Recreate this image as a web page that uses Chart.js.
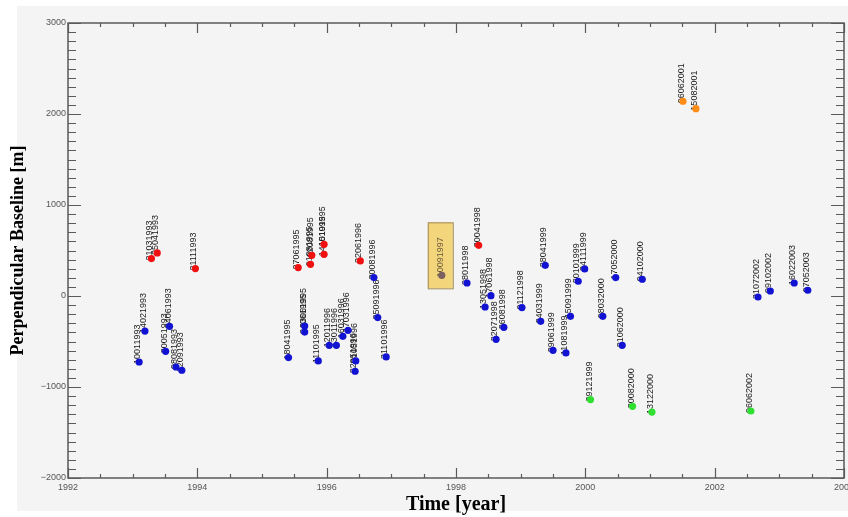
<!DOCTYPE html>
<html>
<head>
<meta charset="utf-8">
<script src="https://cdn.jsdelivr.net/npm/chart.js@4.4.1/dist/chart.umd.min.js"></script>
<style>
  html, body { margin: 0; padding: 0; background: #fff; }
</style>
</head>
<body>
<canvas id="chart" width="848" height="517"></canvas>
<script>
// blue acquisitions
const blueYears = [1993.10, 1993.19, 1993.51, 1993.57, 1993.67, 1993.76,
  1995.41, 1995.66, 1995.66, 1995.87, 1996.04, 1996.15, 1996.25, 1996.33, 1996.45, 1996.44,
  1996.73, 1996.79, 1996.92, 1998.17, 1998.45, 1998.54, 1998.62, 1998.74, 1999.02,
  1999.31, 1999.38, 1999.50, 1999.70, 1999.77, 1999.89, 1999.99, 2000.27, 2000.47,
  2000.57, 2000.88, 2002.67, 2002.86, 2003.23, 2003.44];
const blueBaselines = [-725, -385, -608, -333, -780, -816,
  -677, -330, -396, -714, -542, -542, -443, -377, -714, -827,
  202, -237, -670, 143, -121, 4, -476, -344, -127,
  -278, 337, -597, -626, -223, 162, 297, -223, 202,
  -542, 184, -11, 55, 143, 63];
const blueDates = ['10011993', '14021993', '30051993', '24061993', '08081993', '12091993',
  '18041995', '23061995', '24061995', '11101995', '12011996', '13011996', '16031996', '17031996', '21051996', '22051996',
  '30081996', '25091996', '31101996', '28011998', '13051998', '17061998', '22071998', '26081998', '01121998',
  '24031999', '28041999', '29061999', '11081999', '15091999', '20101999', '24111999', '08032000', '17052000',
  '21062000', '04102000', '31072002', '09102002', '16022003', '07052003'];

// red acquisitions
const redYears = [1993.29, 1993.38, 1993.97, 1995.56, 1995.75, 1995.77, 1995.96, 1995.96, 1996.52, 1998.35];
const redBaselines = [411, 473, 301, 312, 348, 447, 458, 568, 385, 557];
const redDates = ['21031993', '25041993', '21111993', '27061995', '01081995', '02081995',
  '14101995', '15101995', '22061996', '30041998'];

// green acquisitions
const greenYears = [2000.08, 2000.73, 2001.03, 2002.56];
const greenBaselines = [-1138, -1212, -1275, -1264];
const greenDates = ['29121999', '30082000', '13122000', '06062002'];

// orange acquisitions
const orangeYears = [2001.51, 2001.71];
const orangeBaselines = [2140, 2059];
const orangeDates = ['06062001', '15082001'];

// master image
const masterYears = [1997.78];
const masterBaselines = [227];
const masterDates = ['10091997'];

const yearTicks = [1992, 1994, 1996, 1998, 2000, 2002, 2004];
const baselineTicks = [-2000, -1000, 0, 1000, 2000, 3000];

function toPoints(xs, ys) {
  return xs.map((x, i) => ({ x: x, y: ys[i] }));
}

function makeSet(xs, ys, dates, color, boxed) {
  return {
    data: toPoints(xs, ys),
    dates: dates,
    boxed: boxed,
    backgroundColor: color,
    borderColor: color,
    borderWidth: 0,
    pointRadius: 3.6,
    pointHoverRadius: 3.6
  };
}

const paper = {
  id: 'paper',
  beforeDraw(chart) {
    const c = chart.ctx;
    c.save();
    c.fillStyle = '#ffffff';
    c.fillRect(0, 0, chart.width, chart.height);
    c.fillStyle = '#f4f4f4';
    c.fillRect(17, 6, chart.width - 17, 505);
    c.restore();
  }
};

// frame with inward ticks on all four sides
const frame = {
  id: 'frame',
  beforeDatasetsDraw(chart) {
    const c = chart.ctx;
    const a = chart.chartArea;
    const xs = chart.scales.x, ys = chart.scales.y;
    c.save();
    c.strokeStyle = '#5a5a5a';
    c.lineWidth = 1.5;
    c.strokeRect(a.left, a.top, a.right - a.left, a.bottom - a.top);
    c.lineWidth = 1.2;
    c.beginPath();
    for (let v = 1992; v <= 2004; v += 0.5) {
      const px = Math.round(xs.getPixelForValue(v)) + 0.5;
      const len = v % 2 === 0 ? 10 : 4;
      c.moveTo(px, a.bottom); c.lineTo(px, a.bottom - len);
      c.moveTo(px, a.top); c.lineTo(px, a.top + len);
    }
    for (let v = -2000; v <= 3000; v += 100) {
      const py = Math.round(ys.getPixelForValue(v)) + 0.5;
      const len = v % 1000 === 0 ? 13 : 8;
      c.moveTo(a.left, py); c.lineTo(a.left + len, py);
      c.moveTo(a.right, py); c.lineTo(a.right - len, py);
    }
    c.stroke();
    c.restore();
  }
};

// rotated date label next to every acquisition
const dateLabels = {
  id: 'dateLabels',
  beforeDatasetsDraw(chart) {
    const c = chart.ctx;
    c.save();
    c.font = '9px "Liberation Sans", Arial, sans-serif';
    chart.data.datasets.forEach((ds, i) => {
      const meta = chart.getDatasetMeta(i);
      meta.data.forEach((pt, j) => {
        if (ds.boxed) {
          c.fillStyle = '#f3d57c';
          c.strokeStyle = '#a08c5c';
          c.lineWidth = 1;
          c.fillRect(pt.x - 14, pt.y - 53, 25, 66);
          c.strokeRect(pt.x - 14 + 0.5, pt.y - 53 + 0.5, 25, 66);
          c.fillStyle = '#6a5a3a';
        } else {
          c.fillStyle = '#1a1a1a';
        }
        c.save();
        c.translate(pt.x + 1, pt.y + 2);
        c.rotate(-Math.PI / 2);
        c.fillText(ds.dates[j], 0, 0);
        c.restore();
      });
    });
    c.restore();
  }
};

const ctx = document.getElementById('chart').getContext('2d');
const myChart = new Chart(ctx, {
  type: 'scatter',
  data: {
    datasets: [
      makeSet(blueYears, blueBaselines, blueDates, '#1212d2', false),
      makeSet(redYears, redBaselines, redDates, '#f01010', false),
      makeSet(greenYears, greenBaselines, greenDates, '#30e030', false),
      makeSet(orangeYears, orangeBaselines, orangeDates, '#ff8c14', false),
      makeSet(masterYears, masterBaselines, masterDates, '#7a6060', true)
    ]
  },
  options: {
    responsive: false,
    animation: false,
    layout: { padding: { left: 0, right: 4, top: 23, bottom: 0 } },
    plugins: { legend: { display: false }, tooltip: { enabled: false } },
    scales: {
      x: {
        type: 'linear',
        min: 1992,
        max: 2004,
        afterFit: s => { s.height = 39; s.paddingLeft = 0; s.paddingRight = 0; },
        afterBuildTicks: s => { s.ticks = yearTicks.map(v => ({ value: v })); },
        grid: { display: false, drawTicks: false },
        border: { display: false },
        ticks: {
          autoSkip: false,
          maxRotation: 0,
          padding: 4,
          color: '#555',
          font: { family: '"Liberation Sans", Arial, sans-serif', size: 9 },
          callback: v => String(v)
        },
        title: {
          display: true,
          text: 'Time [year]',
          color: '#000',
          padding: { top: 0, bottom: 0 },
          font: { family: '"Liberation Serif", "Times New Roman", serif', size: 20, weight: 'bold' }
        }
      },
      y: {
        min: -2000,
        max: 3000,
        afterFit: s => { s.width = 68; s.paddingTop = 0; s.paddingBottom = 0; },
        afterBuildTicks: s => { s.ticks = baselineTicks.map(v => ({ value: v })); },
        grid: { display: false, drawTicks: false },
        border: { display: false },
        ticks: {
          padding: 2,
          color: '#555',
          font: { family: '"Liberation Sans", Arial, sans-serif', size: 9 },
          callback: v => v < 0 ? '\u2212' + (-v) : String(v)
        },
        title: {
          display: true,
          text: 'Perpendicular Baseline [m]',
          color: '#000',
          padding: { top: 8, bottom: 0 },
          font: { family: '"Liberation Serif", "Times New Roman", serif', size: 18, weight: 'bold' }
        }
      }
    }
  },
  plugins: [paper, frame, dateLabels]
});
</script>
</body>
</html>
